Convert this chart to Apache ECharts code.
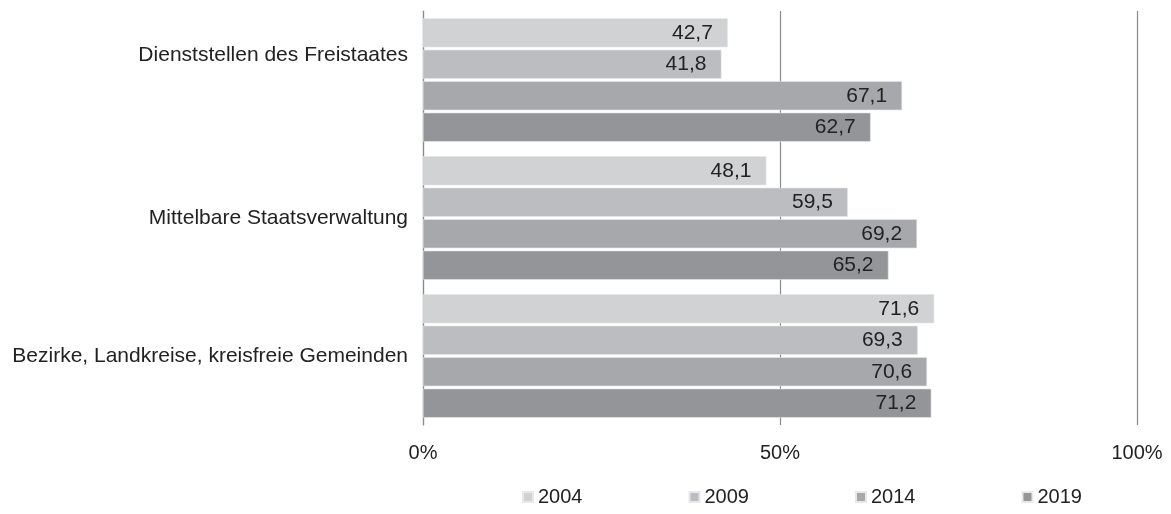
<!DOCTYPE html>
<html><head><meta charset="utf-8">
<script src="https://cdn.jsdelivr.net/npm/echarts@6/dist/echarts.min.js"></script>
<style>html,body{margin:0;padding:0;background:#fff}#c{width:1171px;height:514px}</style>
</head><body><div id="c"></div>
<script>
const categories = ['Dienststellen des Freistaates', 'Mittelbare Staatsverwaltung', 'Bezirke, Landkreise, kreisfreie Gemeinden'];
const years = ['2004', '2009', '2014', '2019'];
const v2004 = [42.7, 48.1, 71.6];
const v2009 = [41.8, 59.5, 69.3];
const v2014 = [67.1, 69.2, 70.6];
const v2019 = [62.7, 65.2, 71.2];
const xTicks = [0, 50, 100];
const colors = ['#d1d2d4', '#bcbdc0', '#a7a8ab', '#939598'];
const seriesData = [v2004, v2009, v2014, v2019];

const chart = echarts.init(document.getElementById('c'));
const font = 'Liberation Sans, Arial, sans-serif';
chart.setOption({
  animation: false,
  textStyle: { fontFamily: font },
  grid: { left: 423, right: 34, top: 11, bottom: 89, containLabel: false },
  legend: {
    bottom: 2, left: 517,
    itemWidth: 10, itemHeight: 10, itemGap: 106,
    icon: 'rect',
    textStyle: { fontSize: 20, color: '#222', fontFamily: font },
    data: years
  },
  xAxis: {
    type: 'value', min: 0, max: 100, interval: 50,
    axisLine: { show: false }, axisTick: { show: false },
    splitLine: { show: true, lineStyle: { color: '#8a8a8a', width: 1.2 } },
    axisLabel: { formatter: v => xTicks.includes(v) ? v + '%' : '', fontSize: 20, color: '#222', margin: 18, fontFamily: font }
  },
  yAxis: {
    type: 'category', data: categories, inverse: true,
    axisLine: { show: true, lineStyle: { color: '#8a8a8a', width: 1.2 } },
    axisTick: { show: false },
    axisLabel: {
      fontSize: 21, color: '#222', margin: 15, fontFamily: font,
      formatter: (v, i) => i === 0 ? '{up|' + v + '}' : v,
      rich: { up: { fontSize: 21, color: '#222', fontFamily: font, padding: [0, 0, 50, 0] } }
    }
  },
  series: seriesData.map((d, i) => ({
    name: years[i], type: 'bar', data: d,
    barGap: '8%', barCategoryGap: '10.5%',
    itemStyle: { color: colors[i], borderColor: '#e8e8e8', borderWidth: 0.6 },
    label: {
      show: true, position: 'insideRight', distance: 15,
      formatter: p => p.value.toFixed(1).replace('.', ','),
      fontSize: 21, color: '#222', fontFamily: font
    }
  }))
});
</script></body></html>
